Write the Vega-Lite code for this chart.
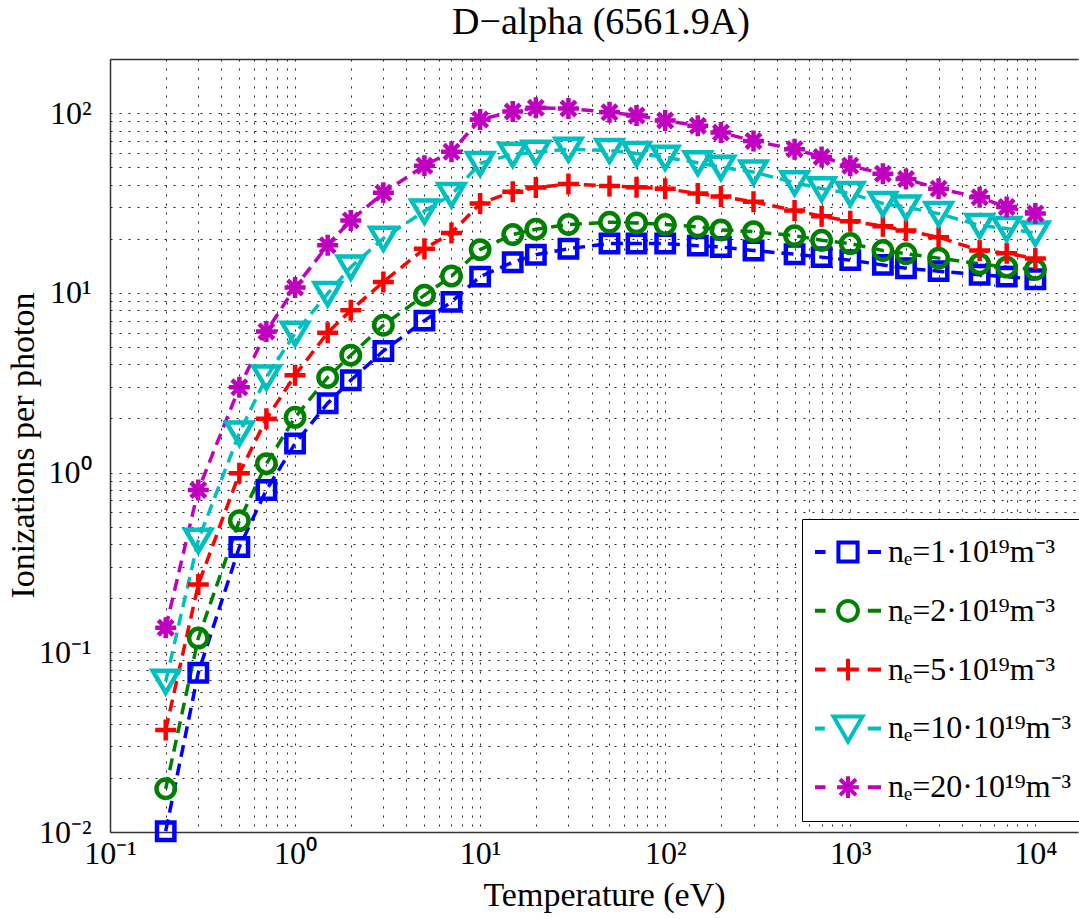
{
  "$schema": "https://vega.github.io/schema/vega-lite/v6.json",
  "width": 968,
  "height": 773,
  "autosize": "none",
  "padding": {"left": 110, "top": 59, "right": 1, "bottom": 87},
  "background": "white",
  "config": {"view": {"stroke": null}, "font": "Liberation Serif"},
  "title": {"text": "D−alpha (6561.9A)", "font": "Liberation Serif", "fontSize": 38, "fontWeight": "normal", "color": "#000", "anchor": "middle", "frame": "group", "baseline": "alphabetic", "offset": 24, "dx": 7, "dy": 37},
  "data": {"values": [
    {"s": "nₑ=1·10¹⁹m⁻³", "T": 0.2, "v": 0.0101}, {"s": "nₑ=1·10¹⁹m⁻³", "T": 0.3, "v": 0.077}, {"s": "nₑ=1·10¹⁹m⁻³", "T": 0.5, "v": 0.385}, {"s": "nₑ=1·10¹⁹m⁻³", "T": 0.7, "v": 0.8}, {"s": "nₑ=1·10¹⁹m⁻³", "T": 1, "v": 1.45}, {"s": "nₑ=1·10¹⁹m⁻³", "T": 1.5, "v": 2.43}, {"s": "nₑ=1·10¹⁹m⁻³", "T": 2, "v": 3.26}, {"s": "nₑ=1·10¹⁹m⁻³", "T": 3, "v": 4.75}, {"s": "nₑ=1·10¹⁹m⁻³", "T": 5, "v": 7.0}, {"s": "nₑ=1·10¹⁹m⁻³", "T": 7, "v": 8.9}, {"s": "nₑ=1·10¹⁹m⁻³", "T": 10, "v": 12.3}, {"s": "nₑ=1·10¹⁹m⁻³", "T": 15, "v": 14.8}, {"s": "nₑ=1·10¹⁹m⁻³", "T": 20, "v": 16.3}, {"s": "nₑ=1·10¹⁹m⁻³", "T": 30, "v": 17.6}, {"s": "nₑ=1·10¹⁹m⁻³", "T": 50, "v": 18.8}, {"s": "nₑ=1·10¹⁹m⁻³", "T": 70, "v": 18.8}, {"s": "nₑ=1·10¹⁹m⁻³", "T": 100, "v": 18.8}, {"s": "nₑ=1·10¹⁹m⁻³", "T": 150, "v": 18.3}, {"s": "nₑ=1·10¹⁹m⁻³", "T": 200, "v": 18.0}, {"s": "nₑ=1·10¹⁹m⁻³", "T": 300, "v": 17.2}, {"s": "nₑ=1·10¹⁹m⁻³", "T": 500, "v": 16.4}, {"s": "nₑ=1·10¹⁹m⁻³", "T": 700, "v": 15.8}, {"s": "nₑ=1·10¹⁹m⁻³", "T": 1000, "v": 15.2}, {"s": "nₑ=1·10¹⁹m⁻³", "T": 1500, "v": 14.3}, {"s": "nₑ=1·10¹⁹m⁻³", "T": 2000, "v": 13.7}, {"s": "nₑ=1·10¹⁹m⁻³", "T": 3000, "v": 13.2}, {"s": "nₑ=1·10¹⁹m⁻³", "T": 5000, "v": 12.6}, {"s": "nₑ=1·10¹⁹m⁻³", "T": 7000, "v": 12.3}, {"s": "nₑ=1·10¹⁹m⁻³", "T": 10000, "v": 11.9},
    {"s": "nₑ=2·10¹⁹m⁻³", "T": 0.2, "v": 0.0174}, {"s": "nₑ=2·10¹⁹m⁻³", "T": 0.3, "v": 0.12}, {"s": "nₑ=2·10¹⁹m⁻³", "T": 0.5, "v": 0.54}, {"s": "nₑ=2·10¹⁹m⁻³", "T": 0.7, "v": 1.12}, {"s": "nₑ=2·10¹⁹m⁻³", "T": 1, "v": 2.03}, {"s": "nₑ=2·10¹⁹m⁻³", "T": 1.5, "v": 3.38}, {"s": "nₑ=2·10¹⁹m⁻³", "T": 2, "v": 4.5}, {"s": "nₑ=2·10¹⁹m⁻³", "T": 3, "v": 6.6}, {"s": "nₑ=2·10¹⁹m⁻³", "T": 5, "v": 9.7}, {"s": "nₑ=2·10¹⁹m⁻³", "T": 7, "v": 12.4}, {"s": "nₑ=2·10¹⁹m⁻³", "T": 10, "v": 17.4}, {"s": "nₑ=2·10¹⁹m⁻³", "T": 15, "v": 21.1}, {"s": "nₑ=2·10¹⁹m⁻³", "T": 20, "v": 22.6}, {"s": "nₑ=2·10¹⁹m⁻³", "T": 30, "v": 24.0}, {"s": "nₑ=2·10¹⁹m⁻³", "T": 50, "v": 24.7}, {"s": "nₑ=2·10¹⁹m⁻³", "T": 70, "v": 24.5}, {"s": "nₑ=2·10¹⁹m⁻³", "T": 100, "v": 24.0}, {"s": "nₑ=2·10¹⁹m⁻³", "T": 150, "v": 23.3}, {"s": "nₑ=2·10¹⁹m⁻³", "T": 200, "v": 22.4}, {"s": "nₑ=2·10¹⁹m⁻³", "T": 300, "v": 21.9}, {"s": "nₑ=2·10¹⁹m⁻³", "T": 500, "v": 20.8}, {"s": "nₑ=2·10¹⁹m⁻³", "T": 700, "v": 19.6}, {"s": "nₑ=2·10¹⁹m⁻³", "T": 1000, "v": 18.8}, {"s": "nₑ=2·10¹⁹m⁻³", "T": 1500, "v": 17.2}, {"s": "nₑ=2·10¹⁹m⁻³", "T": 2000, "v": 16.5}, {"s": "nₑ=2·10¹⁹m⁻³", "T": 3000, "v": 15.6}, {"s": "nₑ=2·10¹⁹m⁻³", "T": 5000, "v": 14.5}, {"s": "nₑ=2·10¹⁹m⁻³", "T": 7000, "v": 13.9}, {"s": "nₑ=2·10¹⁹m⁻³", "T": 10000, "v": 13.5},
    {"s": "nₑ=5·10¹⁹m⁻³", "T": 0.2, "v": 0.037}, {"s": "nₑ=5·10¹⁹m⁻³", "T": 0.3, "v": 0.238}, {"s": "nₑ=5·10¹⁹m⁻³", "T": 0.5, "v": 0.99}, {"s": "nₑ=5·10¹⁹m⁻³", "T": 0.7, "v": 1.99}, {"s": "nₑ=5·10¹⁹m⁻³", "T": 1, "v": 3.48}, {"s": "nₑ=5·10¹⁹m⁻³", "T": 1.5, "v": 6.0}, {"s": "nₑ=5·10¹⁹m⁻³", "T": 2, "v": 8.0}, {"s": "nₑ=5·10¹⁹m⁻³", "T": 3, "v": 11.5}, {"s": "nₑ=5·10¹⁹m⁻³", "T": 5, "v": 17.6}, {"s": "nₑ=5·10¹⁹m⁻³", "T": 7, "v": 21.5}, {"s": "nₑ=5·10¹⁹m⁻³", "T": 10, "v": 31.4}, {"s": "nₑ=5·10¹⁹m⁻³", "T": 15, "v": 36.5}, {"s": "nₑ=5·10¹⁹m⁻³", "T": 20, "v": 38.5}, {"s": "nₑ=5·10¹⁹m⁻³", "T": 30, "v": 40.3}, {"s": "nₑ=5·10¹⁹m⁻³", "T": 50, "v": 39.3}, {"s": "nₑ=5·10¹⁹m⁻³", "T": 70, "v": 38.7}, {"s": "nₑ=5·10¹⁹m⁻³", "T": 100, "v": 38.0}, {"s": "nₑ=5·10¹⁹m⁻³", "T": 150, "v": 35.7}, {"s": "nₑ=5·10¹⁹m⁻³", "T": 200, "v": 34.3}, {"s": "nₑ=5·10¹⁹m⁻³", "T": 300, "v": 32.1}, {"s": "nₑ=5·10¹⁹m⁻³", "T": 500, "v": 28.7}, {"s": "nₑ=5·10¹⁹m⁻³", "T": 700, "v": 26.7}, {"s": "nₑ=5·10¹⁹m⁻³", "T": 1000, "v": 25.0}, {"s": "nₑ=5·10¹⁹m⁻³", "T": 1500, "v": 23.5}, {"s": "nₑ=5·10¹⁹m⁻³", "T": 2000, "v": 22.2}, {"s": "nₑ=5·10¹⁹m⁻³", "T": 3000, "v": 20.4}, {"s": "nₑ=5·10¹⁹m⁻³", "T": 5000, "v": 17.2}, {"s": "nₑ=5·10¹⁹m⁻³", "T": 7000, "v": 16.6}, {"s": "nₑ=5·10¹⁹m⁻³", "T": 10000, "v": 15.5},
    {"s": "nₑ=10·10¹⁹m⁻³", "T": 0.2, "v": 0.069}, {"s": "nₑ=10·10¹⁹m⁻³", "T": 0.3, "v": 0.42}, {"s": "nₑ=10·10¹⁹m⁻³", "T": 0.5, "v": 1.66}, {"s": "nₑ=10·10¹⁹m⁻³", "T": 0.7, "v": 3.4}, {"s": "nₑ=10·10¹⁹m⁻³", "T": 1, "v": 5.95}, {"s": "nₑ=10·10¹⁹m⁻³", "T": 1.5, "v": 9.9}, {"s": "nₑ=10·10¹⁹m⁻³", "T": 2, "v": 13.9}, {"s": "nₑ=10·10¹⁹m⁻³", "T": 3, "v": 20.1}, {"s": "nₑ=10·10¹⁹m⁻³", "T": 5, "v": 28.5}, {"s": "nₑ=10·10¹⁹m⁻³", "T": 7, "v": 35.2}, {"s": "nₑ=10·10¹⁹m⁻³", "T": 10, "v": 52.5}, {"s": "nₑ=10·10¹⁹m⁻³", "T": 15, "v": 59}, {"s": "nₑ=10·10¹⁹m⁻³", "T": 20, "v": 60.5}, {"s": "nₑ=10·10¹⁹m⁻³", "T": 30, "v": 63}, {"s": "nₑ=10·10¹⁹m⁻³", "T": 50, "v": 62}, {"s": "nₑ=10·10¹⁹m⁻³", "T": 70, "v": 59.6}, {"s": "nₑ=10·10¹⁹m⁻³", "T": 100, "v": 56.8}, {"s": "nₑ=10·10¹⁹m⁻³", "T": 150, "v": 53}, {"s": "nₑ=10·10¹⁹m⁻³", "T": 200, "v": 50}, {"s": "nₑ=10·10¹⁹m⁻³", "T": 300, "v": 47}, {"s": "nₑ=10·10¹⁹m⁻³", "T": 500, "v": 41}, {"s": "nₑ=10·10¹⁹m⁻³", "T": 700, "v": 38}, {"s": "nₑ=10·10¹⁹m⁻³", "T": 1000, "v": 35.7}, {"s": "nₑ=10·10¹⁹m⁻³", "T": 1500, "v": 31.4}, {"s": "nₑ=10·10¹⁹m⁻³", "T": 2000, "v": 30}, {"s": "nₑ=10·10¹⁹m⁻³", "T": 3000, "v": 27.6}, {"s": "nₑ=10·10¹⁹m⁻³", "T": 5000, "v": 23.7}, {"s": "nₑ=10·10¹⁹m⁻³", "T": 7000, "v": 22.8}, {"s": "nₑ=10·10¹⁹m⁻³", "T": 10000, "v": 21.5},
    {"s": "nₑ=20·10¹⁹m⁻³", "T": 0.2, "v": 0.137}, {"s": "nₑ=20·10¹⁹m⁻³", "T": 0.3, "v": 0.8}, {"s": "nₑ=20·10¹⁹m⁻³", "T": 0.5, "v": 2.98}, {"s": "nₑ=20·10¹⁹m⁻³", "T": 0.7, "v": 6.1}, {"s": "nₑ=20·10¹⁹m⁻³", "T": 1, "v": 10.7}, {"s": "nₑ=20·10¹⁹m⁻³", "T": 1.5, "v": 18.4}, {"s": "nₑ=20·10¹⁹m⁻³", "T": 2, "v": 25.3}, {"s": "nₑ=20·10¹⁹m⁻³", "T": 3, "v": 36}, {"s": "nₑ=20·10¹⁹m⁻³", "T": 5, "v": 51}, {"s": "nₑ=20·10¹⁹m⁻³", "T": 7, "v": 61}, {"s": "nₑ=20·10¹⁹m⁻³", "T": 10, "v": 92}, {"s": "nₑ=20·10¹⁹m⁻³", "T": 15, "v": 102}, {"s": "nₑ=20·10¹⁹m⁻³", "T": 20, "v": 107}, {"s": "nₑ=20·10¹⁹m⁻³", "T": 30, "v": 106}, {"s": "nₑ=20·10¹⁹m⁻³", "T": 50, "v": 101}, {"s": "nₑ=20·10¹⁹m⁻³", "T": 70, "v": 97}, {"s": "nₑ=20·10¹⁹m⁻³", "T": 100, "v": 91}, {"s": "nₑ=20·10¹⁹m⁻³", "T": 150, "v": 85}, {"s": "nₑ=20·10¹⁹m⁻³", "T": 200, "v": 78}, {"s": "nₑ=20·10¹⁹m⁻³", "T": 300, "v": 70}, {"s": "nₑ=20·10¹⁹m⁻³", "T": 500, "v": 63}, {"s": "nₑ=20·10¹⁹m⁻³", "T": 700, "v": 57}, {"s": "nₑ=20·10¹⁹m⁻³", "T": 1000, "v": 51}, {"s": "nₑ=20·10¹⁹m⁻³", "T": 1500, "v": 46}, {"s": "nₑ=20·10¹⁹m⁻³", "T": 2000, "v": 43}, {"s": "nₑ=20·10¹⁹m⁻³", "T": 3000, "v": 38}, {"s": "nₑ=20·10¹⁹m⁻³", "T": 5000, "v": 34}, {"s": "nₑ=20·10¹⁹m⁻³", "T": 7000, "v": 30}, {"s": "nₑ=20·10¹⁹m⁻³", "T": 10000, "v": 27.6}
  ]},
  "layer": [
    {
      "mark": {"type": "line", "strokeWidth": 3.5, "strokeDash": [12, 7]},
      "encoding": {
        "x": {"field": "T", "type": "quantitative",
          "scale": {"type": "log", "domain": [0.1, 17000], "nice": false},
          "axis": {"orient": "bottom",
            "values": [0.1,0.2,0.3,0.4,0.5,0.6,0.7,0.8,0.9,1,2,3,4,5,6,7,8,9,10,20,30,40,50,60,70,80,90,100,200,300,400,500,600,700,800,900,1000,2000,3000,4000,5000,6000,7000,8000,9000,10000],
            "labelExpr": "abs(log(datum.value)/LN10 - round(log(datum.value)/LN10)) < 0.001 ? ['10⁻²','10⁻¹','10⁰','10¹','10²','10³','10⁴'][round(log(datum.value)/LN10)+2] : ''",
            "labelFont": "Liberation Serif", "labelFontSize": 32, "labelColor": "#000", "labelPadding": 6,
            "labelOverlap": false, "labelFlush": false,
            "tickSize": 0, "tickColor": "#333", "tickWidth": 1,
            "domainColor": "#333", "domainWidth": 1.5,
            "grid": true, "gridColor": "#222", "gridDash": [2, 7], "gridWidth": 1,
            "title": "Temperature (eV)", "titleFont": "Liberation Serif", "titleFontSize": 34, "titleFontWeight": "normal", "titleColor": "#000",
            "titleX": 494, "titleY": 73, "titleBaseline": "alphabetic", "titleAlign": "center",
            "encode": {"ticks": {"y2": {"condition": {"test": "abs(log(datum.value)/LN10 - round(log(datum.value)/LN10)) < 0.001", "value": -10}, "value": -5}}}
          }
        },
        "y": {"field": "v", "type": "quantitative",
          "scale": {"type": "log", "domain": [0.01, 200], "nice": false},
          "axis": {"orient": "left",
            "values": [0.01,0.02,0.03,0.04,0.05,0.06,0.07,0.08,0.09,0.1,0.2,0.3,0.4,0.5,0.6,0.7,0.8,0.9,1,2,3,4,5,6,7,8,9,10,20,30,40,50,60,70,80,90,100],
            "labelExpr": "abs(log(datum.value)/LN10 - round(log(datum.value)/LN10)) < 0.001 ? ['10⁻²','10⁻¹','10⁰','10¹','10²','10³','10⁴'][round(log(datum.value)/LN10)+2] : ''",
            "labelFont": "Liberation Serif", "labelFontSize": 32, "labelColor": "#000", "labelPadding": 19,
            "labelOverlap": false, "labelFlush": false,
            "tickSize": 0, "tickColor": "#333", "tickWidth": 1,
            "domainColor": "#333", "domainWidth": 1.5,
            "grid": true, "gridColor": "#222", "gridDash": [2, 7], "gridWidth": 1,
            "title": "Ionizations per photon", "titleFont": "Liberation Serif", "titleFontSize": 34, "titleFontWeight": "normal", "titleColor": "#000",
            "titleX": -77, "titleY": 386, "titleAngle": -90, "titleBaseline": "alphabetic", "titleAlign": "center",
            "encode": {"ticks": {"x2": {"condition": {"test": "abs(log(datum.value)/LN10 - round(log(datum.value)/LN10)) < 0.001", "value": 10}, "value": 5}}}
          }
        },
        "color": {"field": "s", "type": "nominal",
          "scale": {"domain": ["nₑ=1·10¹⁹m⁻³", "nₑ=2·10¹⁹m⁻³", "nₑ=5·10¹⁹m⁻³", "nₑ=10·10¹⁹m⁻³", "nₑ=20·10¹⁹m⁻³"], "range": ["#0000ff", "#008000", "#ff0000", "#00bfbf", "#bf00bf"]},
          "legend": null}
      }
    },
    {
      "mark": {"type": "point", "filled": false, "strokeWidth": 4.5, "size": 400, "opacity": 1},
      "encoding": {
        "x": {"field": "T", "type": "quantitative",
          "scale": {"type": "log", "domain": [0.1, 17000], "nice": false},
          "axis": {"orient": "top",
            "values": [0.1,0.2,0.3,0.4,0.5,0.6,0.7,0.8,0.9,1,2,3,4,5,6,7,8,9,10,20,30,40,50,60,70,80,90,100,200,300,400,500,600,700,800,900,1000,2000,3000,4000,5000,6000,7000,8000,9000,10000],
            "labels": false, "grid": false, "title": null,
            "tickSize": 0, "tickColor": "#333", "tickWidth": 1,
            "domainColor": "#333", "domainWidth": 1.5,
            "encode": {"ticks": {"y2": {"condition": {"test": "abs(log(datum.value)/LN10 - round(log(datum.value)/LN10)) < 0.001", "value": 10}, "value": 5}}}
          }
        },
        "y": {"field": "v", "type": "quantitative",
          "scale": {"type": "log", "domain": [0.01, 200], "nice": false}},
        "color": {"field": "s", "type": "nominal",
          "scale": {"domain": ["nₑ=1·10¹⁹m⁻³", "nₑ=2·10¹⁹m⁻³", "nₑ=5·10¹⁹m⁻³", "nₑ=10·10¹⁹m⁻³", "nₑ=20·10¹⁹m⁻³"], "range": ["#0000ff", "#008000", "#ff0000", "#00bfbf", "#bf00bf"]},
          "legend": null},
        "shape": {"field": "s", "type": "nominal",
          "scale": {"domain": ["nₑ=1·10¹⁹m⁻³", "nₑ=2·10¹⁹m⁻³", "nₑ=5·10¹⁹m⁻³", "nₑ=10·10¹⁹m⁻³", "nₑ=20·10¹⁹m⁻³"],
            "range": ["M-0.87,-0.87H0.87V0.87H-0.87Z", "M-0.92,0A0.92,0.92,0,1,1,0.92,0A0.92,0.92,0,1,1,-0.92,0Z", "M-1.05,0H1.05M0,-1.05V1.05", "M-1.3,-1.05H1.3L0,1.15Z", "M-1.05,0H1.05M0,-1.05V1.05M-0.74,-0.74L0.74,0.74M-0.74,0.74L0.74,-0.74"]},
          "legend": null}
      }
    },
    {
      "transform": [{"filter": "datum.T < 0"}],
      "mark": {"type": "point", "filled": false, "strokeWidth": 4, "opacity": 1},
      "encoding": {
        "x": {"field": "T", "type": "quantitative",
          "scale": {"type": "log", "domain": [0.1, 17000], "nice": false}, "axis": null},
        "y": {"field": "v", "type": "quantitative",
          "scale": {"type": "log", "domain": [0.01, 200], "nice": false}},
        "color": {"field": "s", "type": "nominal",
          "scale": {"domain": ["nₑ=1·10¹⁹m⁻³", "nₑ=2·10¹⁹m⁻³", "nₑ=5·10¹⁹m⁻³", "nₑ=10·10¹⁹m⁻³", "nₑ=20·10¹⁹m⁻³"], "range": ["#0000ff", "#008000", "#ff0000", "#00bfbf", "#bf00bf"]},
          "legend": {"title": null, "orient": "none", "legendX": 692, "legendY": 460, "padding": 11,
            "strokeColor": "#000", "fillColor": "#fff", "cornerRadius": 0,
            "symbolSize": 4356, "symbolStrokeWidth": 4, "symbolOpacity": 1,
            "labelFont": "Liberation Serif", "labelFontSize": 32, "labelColor": "#000", "labelOffset": 5, "labelLimit": 400,
            "clipHeight": 44, "rowPadding": 14.8}},
        "shape": {"field": "s", "type": "nominal",
          "scale": {"domain": ["nₑ=1·10¹⁹m⁻³", "nₑ=2·10¹⁹m⁻³", "nₑ=5·10¹⁹m⁻³", "nₑ=10·10¹⁹m⁻³", "nₑ=20·10¹⁹m⁻³"],
            "range": ["M-1,0H-0.68M0.6,0H1M-0.29,-0.29H0.29V0.29H-0.29Z", "M-1,0H-0.68M0.6,0H1M-0.3,0A0.3,0.3,0,1,1,0.3,0A0.3,0.3,0,1,1,-0.3,0Z", "M-1,0H-0.68M0.6,0H1M-0.33,0H0.33M0,-0.33V0.33", "M-1,0H-0.7M0.6,0H1M-0.44,-0.36H0.44L0,0.4Z", "M-1,0H-0.68M0.6,0H1M-0.33,0H0.33M0,-0.33V0.33M-0.24,-0.24L0.24,0.24M-0.24,0.24L0.24,-0.24"]},
          "legend": {"title": null, "orient": "none", "legendX": 692, "legendY": 460, "padding": 11,
            "strokeColor": "#000", "fillColor": "#fff", "cornerRadius": 0,
            "symbolSize": 4356, "symbolStrokeWidth": 4, "symbolOpacity": 1,
            "labelFont": "Liberation Serif", "labelFontSize": 32, "labelColor": "#000", "labelOffset": 5, "labelLimit": 400,
            "clipHeight": 44, "rowPadding": 14.8}}
      }
    }
  ],
  "resolve": {"axis": {"x": "independent"}, "scale": {"color": "independent", "shape": "independent"}}
}
